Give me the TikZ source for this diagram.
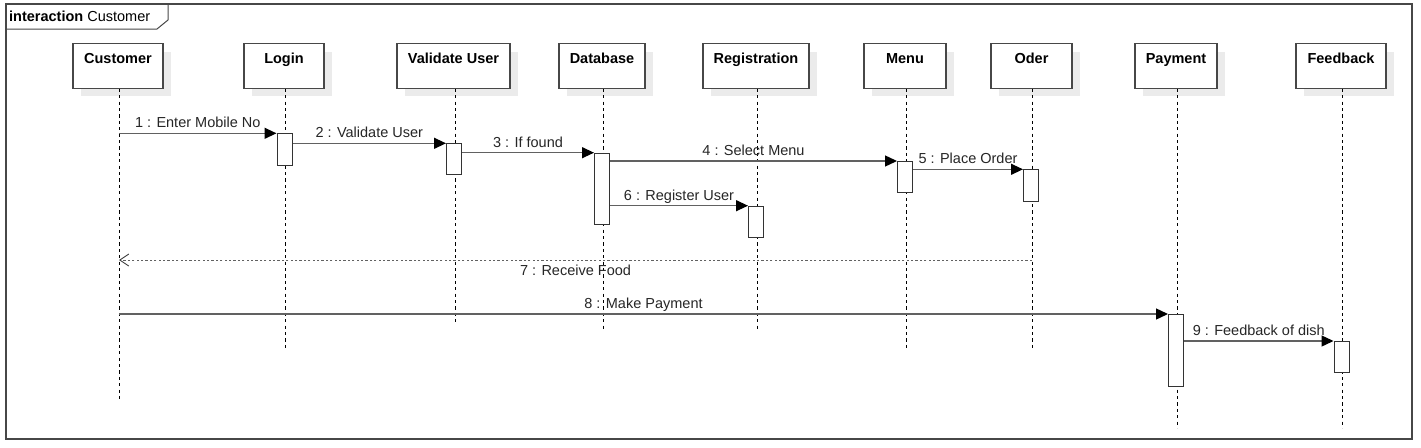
\documentclass[tikz,border=0pt]{standalone}
\usepackage{fontspec}
\setmainfont{Liberation Sans}
\usetikzlibrary{arrows.meta,shadows}
\begin{document}
\begin{tikzpicture}[x=1pt,y=-1pt,
  txt/.style={font=\fontsize{14.5}{17}\selectfont},
  head/.style={draw=black!72, line width=1.1pt, fill=white, inner xsep=0pt, inner ysep=0pt,
    minimum width=#1, text height=20pt, text depth=24.7pt, anchor=north,
    font=\fontsize{14.5}{17}\selectfont\bfseries,
    general shadow={fill=black!8, shadow xshift=8pt, shadow yshift=-8pt}},
  lifeline/.style={draw=black, line width=0.8pt, dash pattern=on 3.2pt off 3.2pt},
  act/.style={draw=black!80, line width=1pt, fill=white, minimum width=15pt, inner sep=0pt, anchor=north},
  msg/.style={draw=black!62, line width=1.3pt, -{Triangle[length=12pt,width=11pt,black]}},
  ret/.style={draw=black!62, line width=1pt, dash pattern=on 2.2pt off 2.2pt, -{Straight Barb[length=9pt,width=12pt,black!75,line width=0.9pt]}},
  lbl/.style={txt, text=black!85, inner sep=0pt, anchor=base},
  frameline/.style={draw=black!72, line width=1.3pt}]
\useasboundingbox (0,0) rectangle (1421,447);
\fill[white] (0,0) rectangle (1421,447);

% frame
\draw[frameline] (6,4) rectangle (1412,439);
\draw[frameline, line width=1pt] (6,29) -- (157,29) -- (168,20) -- (168,4);
\node[txt, inner sep=0pt, anchor=base west] (title) at (9,21.7) {\textbf{interaction} Customer};

% lifeline heads
\node[head=90pt]  (cust) at (118,43)   {Customer};
\node[head=80pt]  (login) at (284,43)  {Login};
\node[head=113pt] (valid) at (453.5,43) {Validate User};
\node[head=86pt]  (db) at (602,43)     {Database};
\node[head=106pt] (reg) at (756,43)    {Registration};
\node[head=82pt]  (menu) at (905,43)   {Menu};
\node[head=81pt]  (oder) at (1031.5,43) {Oder};
\node[head=82pt]  (pay) at (1176,43)   {Payment};
\node[head=90pt]  (fb) at (1341,43)    {Feedback};

% lifeline ends
\coordinate (custE) at (119,402);
\coordinate (loginE) at (285,348);
\coordinate (validE) at (455,324);
\coordinate (dbE) at (603,330);
\coordinate (regE) at (757,331);
\coordinate (menuE) at (906,348);
\coordinate (oderE) at (1032,348);
\coordinate (payE) at (1177,428);
\coordinate (fbE) at (1342,428);

\draw[lifeline] (cust.south -| custE) -- (custE);
\draw[lifeline] (login.south -| loginE) -- (loginE);
\draw[lifeline] (valid.south -| validE) -- (validE);
\draw[lifeline] (db.south -| dbE) -- (dbE);
\draw[lifeline] (reg.south -| regE) -- (regE);
\draw[lifeline] (menu.south -| menuE) -- (menuE);
\draw[lifeline] (oder.south -| oderE) -- (oderE);
\draw[lifeline] (pay.south -| payE) -- (payE);
\draw[lifeline] (fb.south -| fbE) -- (fbE);

% activations
\node[act, minimum height=32pt] (a1) at (284.5,133.3) {};
\node[act, minimum height=31pt] (a2) at (454,143.3) {};
\node[act, minimum height=71pt] (a3) at (602,152.7) {};
\node[act, minimum height=31pt] (a4) at (905,161) {};
\node[act, minimum height=32pt] (a5) at (1031,169.3) {};
\node[act, minimum height=31.5pt] (a6) at (756,205.7) {};
\node[act, minimum height=72pt] (a8) at (1176,314) {};
\node[act, minimum height=31.3pt] (a9) at (1341.5,341) {};

% messages
\coordinate (c1) at (119,133.3);
\coordinate (o7) at (1032,260);
\coordinate (c7) at (119,260);
\coordinate (c8) at (119,314);

\draw[msg] (c1) -- node[lbl, midway, yshift=5.5pt] {1 : Enter Mobile No} (a1.north west);
\draw[msg] (a1.east |- a2.north west) -- node[lbl, midway, yshift=5.5pt] {2 : Validate User} (a2.north west);
\draw[msg] (a2.east |- a3.north west) -- node[lbl, midway, yshift=5.5pt] {3 : If found} (a3.north west);
\draw[msg] (a3.east |- a4.north west) -- node[lbl, midway, yshift=5.5pt] {4 : Select Menu} (a4.north west);
\draw[msg] (a4.east |- a5.north west) -- node[lbl, midway, yshift=5.5pt] {5 : Place Order} (a5.north west);
\draw[msg] (a3.east |- a6.north west) -- node[lbl, midway, yshift=5.5pt] {6 : Register User} (a6.north west);
\draw[ret] (o7) -- node[lbl, midway, yshift=-15.7pt] {7 : Receive Food} (c7);
\draw[msg] (c8) -- node[lbl, midway, yshift=5.5pt] {8 : Make Payment} (a8.north west);
\draw[msg] (a8.east |- a9.north west) -- node[lbl, midway, yshift=5.5pt] {9 : Feedback of dish} (a9.north west);
\end{tikzpicture}
\end{document}
